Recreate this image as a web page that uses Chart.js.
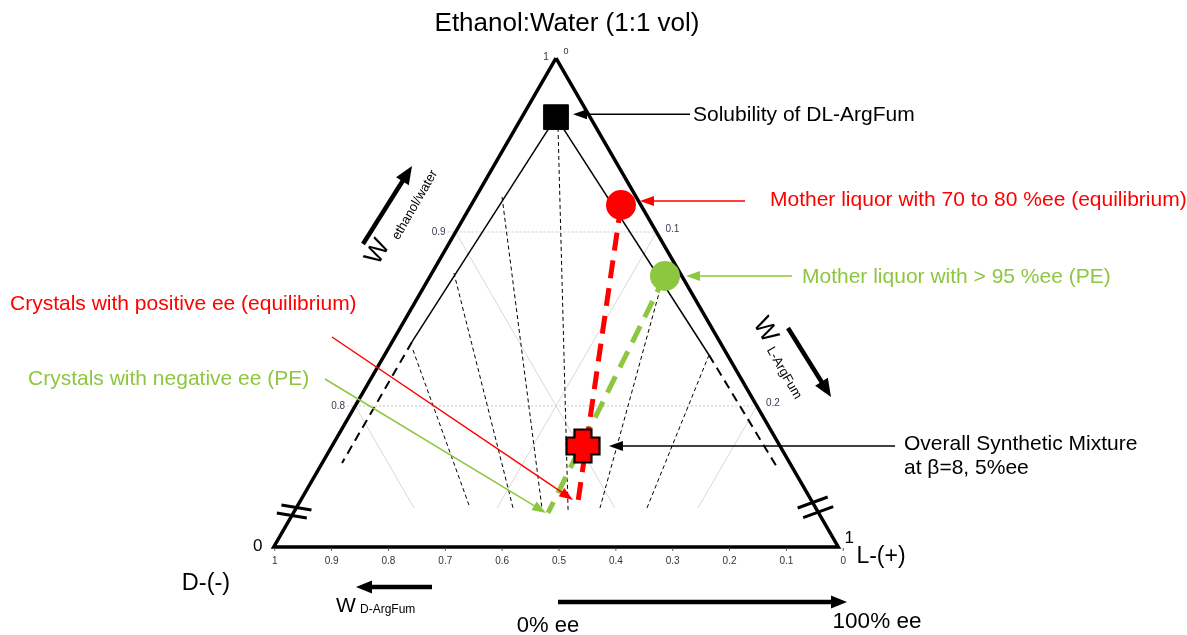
<!DOCTYPE html>
<html>
<head>
<meta charset="utf-8">
<script src="https://cdn.jsdelivr.net/npm/chart.js@4"></script>
<style>
  html, body { margin: 0; padding: 0; background: #fff; }
  #diagrama { display: block; }
</style>
</head>
<body>
<canvas id="diagrama" width="1187" height="635"></canvas>
<script>
'use strict'

// composicion ternaria: wE = fraccion etanol/agua, wL = fraccion L-ArgFum (wD = 1 - wE - wL)
const cornersE = [1, 0.719, 0.719, 1]
const cornersL = [0, 0, 0.281, 0]
const bottomTicks = ['1', '0.9', '0.8', '0.7', '0.6', '0.5', '0.4', '0.3', '0.2', '0.1', '0']
const leftTicks = [0.9, 0.8]     // wE sobre el lado izquierdo
const rightTicks = [0.1, 0.2]    // wL sobre el lado derecho
const gridEndE = 0.7414

// curvas de solubilidad
const solLeftE = [0.966, 0.8368]
const solLeftL = [0.017, 0.0099]
const solLeftExtE = [0.8368, 0.7672]
const solLeftExtL = [0.0099, 0.0099]
const solRightE = [0.966, 0.8293]
const solRightL = [0.017, 0.1615]
const solRightExtE = [0.8293, 0.7649]
const solRightExtL = [0.1615, 0.2275]

// lineas de reparto
const tieStartE = [0.8322, 0.8764, 0.9201, 0.9598, 0.8753, 0.8293]
const tieStartL = [0.0127, 0.0110, 0.0131, 0.0211, 0.1161, 0.1615]
const tieEndE = [0.7414, 0.7414, 0.7414, 0.7402, 0.7414, 0.7414]
const tieEndL = [0.0865, 0.1079, 0.1223, 0.1359, 0.1512, 0.1746]

// caminos de cristalizacion (equilibrio en rojo, PE en verde)
const eqPathE = [0.9155, 0.7414]
const eqPathL = [0.0746, 0.1398]
const pePathE = [0.8747, 0.7385]
const pePathL = [0.1169, 0.1268]

// puntos: solubilidad DL, licor madre eq, licor madre PE, mezcla global
const puntosE = [0.966, 0.9155, 0.8747, 0.7770]
const puntosL = [0.017, 0.0746, 0.1169, 0.1249]

const ROJO = '#ff0000'
const VERDE = '#8dc63f'
const FUENTE = '"Liberation Sans", Arial, sans-serif'

const S3 = Math.sqrt(3) / 2
function tern(wE, wL) {
  return { x: wL + wE / 2, y: wE * S3 }
}

function linea(E, L, opts) {
  return Object.assign({
    data: E.map((e, i) => tern(e, L[i])),
    showLine: true,
    pointRadius: 0,
    borderColor: '#000',
    borderWidth: 1,
    fill: false,
    tension: 0
  }, opts)
}

function crearCruz(lado, brazo, relleno) {
  const c = document.createElement('canvas')
  c.width = lado
  c.height = lado
  const g = c.getContext('2d')
  const a = (lado - brazo) / 2, b = a + brazo, n = 1.5, m = lado - 1.5
  g.beginPath()
  g.moveTo(a, n); g.lineTo(b, n); g.lineTo(b, a); g.lineTo(m, a); g.lineTo(m, b); g.lineTo(b, b)
  g.lineTo(b, m); g.lineTo(a, m); g.lineTo(a, b); g.lineTo(n, b); g.lineTo(n, a); g.lineTo(a, a)
  g.closePath()
  g.fillStyle = relleno
  g.fill()
  g.lineWidth = 2.2
  g.strokeStyle = '#000'
  g.stroke()
  return c
}

const datasets = []

// puntos encima de todo
datasets.push({
  data: puntosE.map((e, i) => tern(e, puntosL[i])),
  pointStyle: ['rect', 'circle', 'circle', crearCruz(36, 17, ROJO)],
  pointRadius: [17.5, 15, 15, 18],
  pointBackgroundColor: ['#000', ROJO, VERDE, ROJO],
  pointBorderColor: ['#000', ROJO, VERDE, '#000'],
  pointBorderWidth: [1, 0, 0, 0],
  showLine: false,
  order: 0
})

datasets.push(linea(eqPathE, eqPathL, { borderColor: ROJO, borderWidth: 5, borderDash: [18, 10], order: 1 }))
datasets.push(linea(pePathE, pePathL, { borderColor: VERDE, borderWidth: 5, borderDash: [18, 10], order: 1 }))
datasets.push(linea(cornersE, cornersL, { borderWidth: 3.5, order: 2 }))
datasets.push(linea(solLeftE, solLeftL, { borderWidth: 1.5, order: 3 }))
datasets.push(linea(solRightE, solRightL, { borderWidth: 1.5, order: 3 }))
datasets.push(linea(solLeftExtE, solLeftExtL, { borderWidth: 2, borderDash: [9, 6], order: 3 }))
datasets.push(linea(solRightExtE, solRightExtL, { borderWidth: 2, borderDash: [9, 6], order: 3 }))

tieStartE.forEach((e, i) => {
  datasets.push(linea([e, tieEndE[i]], [tieStartL[i], tieEndL[i]], { borderWidth: 1, borderDash: [4, 3], order: 4 }))
})

// rejilla gris
leftTicks.forEach(t => {
  datasets.push(linea([t, t], [-0.004, 1 - t], { borderColor: '#b8b8b8', borderWidth: 0.8, borderDash: [2, 2], order: 5 }))
  datasets.push(linea([t, gridEndE], [0, t - gridEndE], { borderColor: '#cfcfcf', borderWidth: 0.8, order: 5 }))
})
rightTicks.forEach(t => {
  datasets.push(linea([1 - t, gridEndE], [t, t], { borderColor: '#cfcfcf', borderWidth: 0.8, order: 5 }))
})

function flecha(ctx, x1, y1, x2, y2, color, lw, largo, ancho) {
  const ang = Math.atan2(y2 - y1, x2 - x1)
  ctx.save()
  ctx.strokeStyle = color
  ctx.fillStyle = color
  ctx.lineWidth = lw
  ctx.setLineDash([])
  ctx.beginPath()
  ctx.moveTo(x1, y1)
  ctx.lineTo(x2 - Math.cos(ang) * largo * 0.8, y2 - Math.sin(ang) * largo * 0.8)
  ctx.stroke()
  ctx.translate(x2, y2)
  ctx.rotate(ang)
  ctx.beginPath()
  ctx.moveTo(0, 0)
  ctx.lineTo(-largo, -ancho / 2)
  ctx.lineTo(-largo, ancho / 2)
  ctx.closePath()
  ctx.fill()
  ctx.restore()
}

function texto(ctx, str, x, y, size, color, align, rot) {
  ctx.save()
  ctx.font = size + 'px ' + FUENTE
  ctx.fillStyle = color
  ctx.textAlign = align || 'left'
  ctx.textBaseline = 'middle'
  ctx.translate(x, y)
  if (rot) ctx.rotate(rot)
  ctx.fillText(str, 0, 0)
  ctx.restore()
}

const anotaciones = {
  id: 'anotaciones',
  afterDatasetsDraw(chart) {
    const ctx = chart.ctx
    const sx = chart.scales.x, sy = chart.scales.y
    const P = (wE, wL) => {
      const t = tern(wE, wL)
      return [sx.getPixelForValue(t.x), sy.getPixelForValue(t.y)]
    }

    // marcas de corte en los lados
    ctx.save()
    ctx.strokeStyle = '#000'
    ctx.lineWidth = 3
    ;[0.7416, 0.7370].forEach(e => {
      const [x, y] = P(e, 0)
      ctx.beginPath(); ctx.moveTo(x - 15, y - 2.5); ctx.lineTo(x + 15, y + 2.5); ctx.stroke()
    })
    ;[0.7445, 0.7390].forEach(e => {
      const [x, y] = P(e, 1 - e)
      ctx.beginPath(); ctx.moveTo(x - 15, y + 5.5); ctx.lineTo(x + 15, y - 5.5); ctx.stroke()
    })
    ctx.restore()

    // etiquetas de los ejes
    const tick = '#3a3a55'
    leftTicks.forEach(t => {
      const [x, y] = P(t, 0)
      texto(ctx, String(t), x - 10, y, 10, tick, 'right')
    })
    rightTicks.forEach(t => {
      const [x, y] = P(1 - t, t)
      texto(ctx, String(t), x + 9, y - 3, 10, tick, 'left')
    })
    const [bx0, by] = P(cornersE[1], cornersL[1])
    const [bx1] = P(cornersE[2], cornersL[2])
    ctx.save()
    ctx.strokeStyle = '#555'
    ctx.lineWidth = 1
    bottomTicks.forEach((lab, i) => {
      const x = bx0 + 1 + i * (bx1 + 4 - bx0) / 10
      ctx.beginPath(); ctx.moveTo(x, by + 1); ctx.lineTo(x, by + 4); ctx.stroke()
      texto(ctx, lab, x, by + 14, 10, '#333', 'center')
    })
    ctx.restore()
    const [ax, ay] = P(1, 0)
    texto(ctx, '1', ax - 10, ay - 1, 10, '#333', 'center')
    texto(ctx, '0', ax + 10, ay - 6, 9, '#333', 'center')
    texto(ctx, '0', bx0 - 16, by - 1, 17, '#000', 'center')
    texto(ctx, '1', bx1 + 11, by - 9, 17, '#000', 'center')

    // titulos
    texto(ctx, 'Ethanol:Water (1:1 vol)', 567, 24, 26, '#000', 'center')
    texto(ctx, 'D-(-)', 206, 584, 23.5, '#000', 'center')
    texto(ctx, 'L-(+)', 881, 557, 23, '#000', 'center')
    texto(ctx, '0% ee', 548, 626, 22, '#000', 'center')
    texto(ctx, '100% ee', 877, 622, 22.5, '#000', 'center')

    // flechas de los ejes
    flecha(ctx, 363, 244, 412, 166, '#000', 4.5, 18, 15)
    flecha(ctx, 788, 328, 831, 397, '#000', 4.5, 18, 15)
    flecha(ctx, 432, 587, 356, 587, '#000', 4.5, 16, 13)
    flecha(ctx, 558, 602, 847, 602, '#000', 4.5, 16, 13)
    texto(ctx, 'W', 378, 252, 26, '#000', 'center', -Math.PI / 3)
    texto(ctx, 'ethanol/water', 415, 205, 13, '#000', 'center', -Math.PI / 3)
    texto(ctx, 'W', 765, 330, 26, '#000', 'center', Math.PI / 3)
    texto(ctx, 'L-ArgFum', 784, 373, 13, '#000', 'center', Math.PI / 3)
    texto(ctx, 'W', 346, 606, 21, '#000', 'center')
    texto(ctx, 'D-ArgFum', 360, 610, 12, '#000', 'left')

    // flechas de anotacion hacia los puntos
    const [qx, qy] = P(puntosE[0], puntosL[0])
    const [rx, ry] = P(puntosE[1], puntosL[1])
    const [gx, gy] = P(puntosE[2], puntosL[2])
    const [cx, cy] = P(puntosE[3], puntosL[3])
    const [ex, ey] = P(eqPathE[1], eqPathL[1])
    const [px, py] = P(pePathE[1], pePathL[1])
    flecha(ctx, 690, qy - 3, qx + 17, qy - 3, '#000', 1.5, 14, 10)
    flecha(ctx, 745, ry - 4, rx + 19, ry - 4, ROJO, 1.5, 14, 10)
    flecha(ctx, 792, gy, gx + 21, gy, VERDE, 1.5, 14, 10)
    flecha(ctx, 332, 337, ex - 4, ey - 8, ROJO, 1.5, 14, 10)
    flecha(ctx, 325, 379, px - 2, py, VERDE, 1.5, 14, 10)
    flecha(ctx, 895, cy, cx + 26, cy, '#000', 1.5, 14, 10)

    texto(ctx, 'Solubility of DL-ArgFum', 693, 115, 21, '#000', 'left')
    texto(ctx, 'Mother liquor with 70 to 80 %ee (equilibrium)', 770, 200, 21, ROJO, 'left')
    texto(ctx, 'Mother liquor with > 95 %ee (PE)', 802, 277, 21, VERDE, 'left')
    texto(ctx, 'Crystals with positive ee (equilibrium)', 10, 304, 21, ROJO, 'left')
    texto(ctx, 'Crystals with negative ee (PE)', 28, 379, 21, VERDE, 'left')
    texto(ctx, 'Overall Synthetic Mixture', 904, 444, 21, '#000', 'left')
    texto(ctx, 'at \u03b2=8, 5%ee', 904, 468, 21, '#000', 'left')
  }
}

new Chart(document.getElementById('diagrama'), {
  type: 'scatter',
  data: { datasets: datasets },
  options: {
    responsive: false,
    animation: false,
    devicePixelRatio: 1,
    layout: { padding: 0, autoPadding: false },
    plugins: {
      legend: { display: false },
      tooltip: { enabled: false }
    },
    scales: {
      x: { type: 'linear', display: false, min: 0.22324, max: 0.81409 },
      y: { type: 'linear', display: false, min: 0.57881, max: 0.89490 }
    }
  },
  plugins: [anotaciones]
})
</script>
</body>
</html>
